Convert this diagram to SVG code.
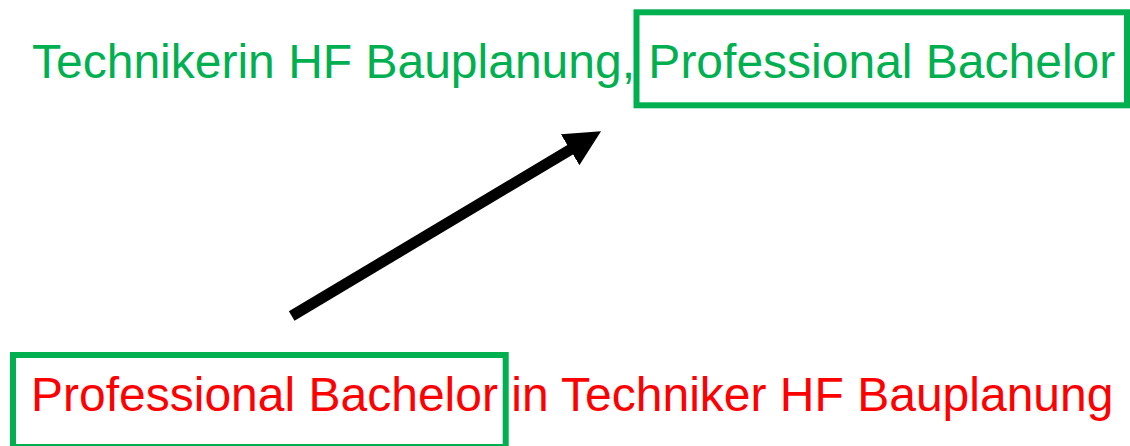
<svg xmlns="http://www.w3.org/2000/svg" width="1130" height="446" viewBox="0 0 1130 446">
<style>
.t{font-family:"Liberation Sans",Arial,sans-serif;font-size:48px}
.g{fill:#00B050}
.r{fill:#FF0000}
.box{fill:none;stroke:#00B050;stroke-width:6}
.arr{stroke:#000;stroke-width:11;fill:none}
</style>
<defs>
<marker id="head" markerUnits="userSpaceOnUse" markerWidth="37" markerHeight="37" viewBox="0 0 37 37" refX="1" refY="18" orient="auto">
<path d="M0,0 L36,18 L0,36 Z" fill="#000"/>
</marker>
</defs>
<g id="top-node">
<rect class="box" x="636.5" y="12.3" width="490.5" height="93"/>
<text class="t g" x="32" y="78">Technikerin HF Bauplanung, Professional Bachelor</text>
</g>
<g id="bottom-node">
<rect class="box" x="13" y="355" width="492.7" height="92"/>
<text class="t r" x="31" y="411">Professional Bachelor in Techniker HF Bauplanung</text>
</g>
<g id="connectors">
<line class="arr" x1="291.7" y1="316" x2="571" y2="149.2" marker-end="url(#head)"/>
</g>
</svg>
